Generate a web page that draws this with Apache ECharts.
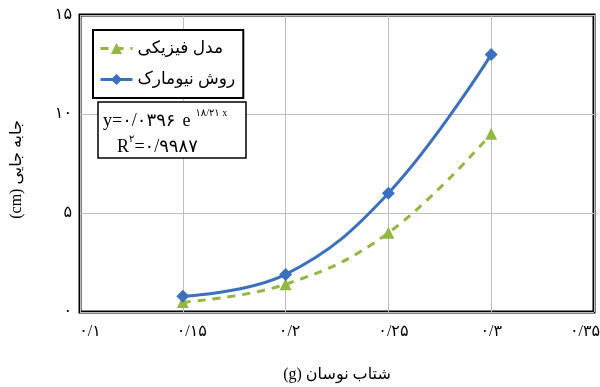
<!DOCTYPE html>
<html>
<head>
<meta charset="utf-8">
<script src="https://cdn.jsdelivr.net/npm/echarts@6/dist/echarts.min.js"></script>
<style>html,body{margin:0;padding:0;background:#fff}#c{width:600px;height:387px}</style>
</head>
<body>
<div id="c"></div>
<script>
const xValues = [0.15, 0.2, 0.25, 0.3];
const physicalModel = [0.5, 1.4, 4.0, 9.0];
const newmarkMethod = [0.8, 1.9, 6.0, 13.0];
const xTickLabels = ['۰/۱', '۰/۱۵', '۰/۲', '۰/۲۵', '۰/۳', '۰/۳۵'];
const yTickLabels = ['۰', '۵', '۱۰', '۱۵'];
const seriesNames = ['مدل فیزیکی', 'روش نیومارک'];
const xTitle = '(g) شتاب نوسان';
const yTitle = '(cm) جابه جایی';
const eqLine1 = 'y=۰/۰۳۹۶';
const eqE = 'e';
const eqSup1 = '۱۸/۲۱ x';
const eqLine2a = 'R';
const eqSup2 = '۲';
const eqLine2b = '=۰/۹۹۸۷';

const FONT = "'Liberation Serif','DejaVu Serif','DejaVu Sans',serif";
const chart = echarts.init(document.getElementById('c'));
const pair = (xs, ys) => xs.map((x, i) => [x, ys[i]]);

// small per-label horizontal nudges (px) like the reference
const xLabelShift = [10, 9, 4, 5, 0, -9];
const xRich = {};
xLabelShift.forEach((d, i) => {
  xRich['t' + i] = { fontSize: 16, color: '#000', fontFamily: FONT,
    padding: d >= 0 ? [0, 0, 0, 2 * d] : [0, -2 * d, 0, 0] };
});

chart.setOption({
  animation: false,
  grid: { left: 80, right: 6, top: 15, bottom: 75, show: true, borderColor: '#000', borderWidth: 3,
          backgroundColor: 'transparent', outerBoundsMode: 'none', containLabel: false },
  xAxis: {
    type: 'value', min: 0.1, max: 0.35, interval: 0.05,
    axisLine: { show: false }, axisTick: { show: false },
    splitLine: { show: true, lineStyle: { color: '#bdbdbd', width: 1 } },
    axisLabel: {
      margin: 12, fontSize: 16, color: '#000', fontFamily: FONT, rich: xRich,
      showMinLabel: true, showMaxLabel: true, hideOverlap: false,
      formatter: (v, i) => '{t' + i + '|' + xTickLabels[i] + '}'
    },
    name: xTitle, nameLocation: 'middle', nameGap: 55,
    nameTextStyle: { fontSize: 16, color: '#000', fontFamily: FONT }
  },
  yAxis: {
    type: 'value', min: 0, max: 15, interval: 5,
    axisLine: { show: false }, axisTick: { show: false },
    splitLine: { show: true, lineStyle: { color: '#bdbdbd', width: 1 } },
    axisLabel: {
      margin: 8, fontSize: 16, color: '#000', fontFamily: FONT,
      formatter: (v, i) => yTickLabels[i]
    },
    name: yTitle, nameLocation: 'middle', nameGap: 55, nameRotate: 90,
    nameTextStyle: { fontSize: 16, color: '#000', fontFamily: FONT, padding: [0, 12, 0, 0] }
  },
  legend: {
    orient: 'vertical', left: 93, top: 30,
    padding: [10, 8, 10, 6], itemGap: 14,
    itemWidth: 32, itemHeight: 14,
    backgroundColor: '#fff', borderColor: '#000', borderWidth: 2,
    lineStyle: { width: 3 },
    textStyle: { fontSize: 17, color: '#000', fontFamily: FONT },
    data: seriesNames
  },
  series: [
    {
      name: seriesNames[0], type: 'line', smooth: 0.4,
      data: pair(xValues, physicalModel),
      symbol: 'triangle', symbolSize: 12,
      lineStyle: { color: '#92b840', width: 3, type: [8, 7] },
      itemStyle: { color: '#92b840' }, z: 3
    },
    {
      name: seriesNames[1], type: 'line', smooth: 0.4,
      data: pair(xValues, newmarkMethod),
      symbol: 'diamond', symbolSize: 13,
      lineStyle: { color: '#3a70c0', width: 3 },
      itemStyle: { color: '#3a70c0' }, z: 4
    }
  ],
  graphic: [
    { type: 'rect', z: 100, shape: { x: 98, y: 102, width: 148, height: 56 },
      style: { fill: '#fff', stroke: '#000', lineWidth: 1.5 } },
    { type: 'text', z: 101, x: 103, y: 108,
      style: {
        text: '{a|' + eqLine1 + '}{e|' + eqE + '}{s|' + eqSup1 + '}',
        rich: {
          a: { fontSize: 18, fontFamily: FONT, color: '#000', lineHeight: 22, verticalAlign: 'bottom' },
          e: { fontSize: 18, fontFamily: FONT, color: '#000', lineHeight: 22, verticalAlign: 'bottom', padding: [0, 5, 0, 7] },
          s: { fontSize: 10, fontFamily: FONT, color: '#000', lineHeight: 22, verticalAlign: 'top' }
        }
      } },
    { type: 'text', z: 101, x: 117, y: 134,
      style: {
        text: '{a|' + eqLine2a + '}{s|' + eqSup2 + '}{a|' + eqLine2b + '}',
        rich: {
          a: { fontSize: 18, fontFamily: FONT, color: '#000', lineHeight: 22, verticalAlign: 'bottom' },
          s: { fontSize: 10, fontFamily: FONT, color: '#000', lineHeight: 22, verticalAlign: 'top' }
        }
      } }
  ]
});
</script>
</body>
</html>
